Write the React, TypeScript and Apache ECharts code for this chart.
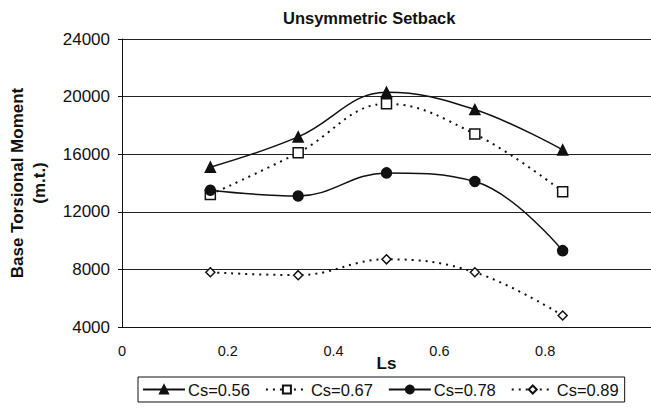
import React, { useEffect, useRef } from "react";
import * as echarts from "echarts";

const lsValues = [0.167, 0.333, 0.5, 0.667, 0.833];
const seriesNames = ["Cs=0.56", "Cs=0.67", "Cs=0.78", "Cs=0.89"];
const cs056 = [15100, 17200, 20300, 19100, 16300];
const cs067 = [13200, 16100, 19500, 17400, 13400];
const cs078 = [13500, 13100, 14700, 14100, 9300];
const cs089 = [7800, 7600, 8700, 7800, 4800];

const FONT = "'Liberation Sans', Arial, sans-serif";

export default function App() {
  const ref = useRef<HTMLDivElement>(null);
  useEffect(() => {
    if (!ref.current) return;
    const chart = echarts.init(ref.current, undefined, { renderer: "svg" });
    const pair = (vals: number[]) => lsValues.map((x, i) => [x, vals[i]]);
    const mk = (
      name: string,
      vals: number[],
      symbol: string,
      filled: boolean,
      dotted: boolean,
      size: number
    ) => ({
      name,
      type: "line",
      data: pair(vals),
      smooth: 0.4,
      symbol,
      symbolSize: size,
      showAllSymbol: true,
      lineStyle: {
        color: "#111",
        width: dotted ? 2 : 1.5,
        type: dotted ? [2, 5] : "solid",
      },
      itemStyle: {
        color: filled ? "#111" : "#fff",
        borderColor: "#111",
        borderWidth: 1.5,
      },
      emphasis: { disabled: true },
    });
    chart.setOption({
      animation: false,
      backgroundColor: "#fff",
      textStyle: { fontFamily: FONT },
      title: {
        text: "Unsymmetric Setback",
        left: 278,
        top: 4,
        textStyle: { fontSize: 16.5, fontWeight: "bold", color: "#111", fontFamily: FONT },
      },
      grid: { left: 122, right: 0, top: 39, bottom: 82, outerBoundsMode: "none" },
      xAxis: {
        type: "value",
        min: 0,
        max: 1,
        interval: 0.2,
        name: "Ls",
        nameLocation: "middle",
        nameGap: 28,
        nameMoveOverlap: false,
        nameTextStyle: { fontSize: 17, fontWeight: "bold", color: "#111", fontFamily: FONT },
        axisLine: { show: true, lineStyle: { color: "#111", width: 1 } },
        axisTick: { show: false },
        splitLine: { show: false },
        axisLabel: {
          fontSize: 14.5,
          color: "#111",
          margin: 16,
          showMaxLabel: false,
          formatter: (v: number) => (v === 0 ? "0" : v.toFixed(1)),
        },
      },
      yAxis: {
        type: "value",
        min: 4000,
        max: 24000,
        interval: 4000,
        name: "Base Torsional Moment\n(m.t.)",
        nameLocation: "middle",
        nameGap: 72,
        nameMoveOverlap: false,
        nameTextStyle: {
          fontSize: 17,
          fontWeight: "bold",
          color: "#111",
          fontFamily: FONT,
          lineHeight: 22,
          align: "center",
        },
        axisLine: { show: true, lineStyle: { color: "#111", width: 1 } },
        axisTick: { show: true, length: 4, lineStyle: { color: "#111" } },
        splitLine: { show: true, lineStyle: { color: "#222", width: 1 } },
        axisLabel: {
          fontSize: 17,
          color: "#111",
          margin: 12,
          formatter: (v: number) => String(v),
        },
      },
      legend: {
        left: 138,
        top: 377,
        padding: [4, 6, 4, 4],
        borderColor: "#111",
        borderWidth: 1,
        itemWidth: 42,
        itemHeight: 10,
        itemGap: 15,
        textStyle: { fontSize: 16.5, color: "#111", fontFamily: FONT, padding: [0, 0, 0, -2] },
        data: seriesNames,
      },
      series: [
        mk(seriesNames[0], cs056, "triangle", true, false, 10),
        mk(seriesNames[1], cs067, "rect", false, true, 10),
        mk(seriesNames[2], cs078, "circle", true, false, 10),
        mk(seriesNames[3], cs089, "diamond", false, true, 9),
      ],
    });
    return () => chart.dispose();
  }, []);
  return (
    <div
      ref={ref}
      style={{ position: "fixed", left: 0, top: 0, width: 651, height: 409 }}
    />
  );
}
